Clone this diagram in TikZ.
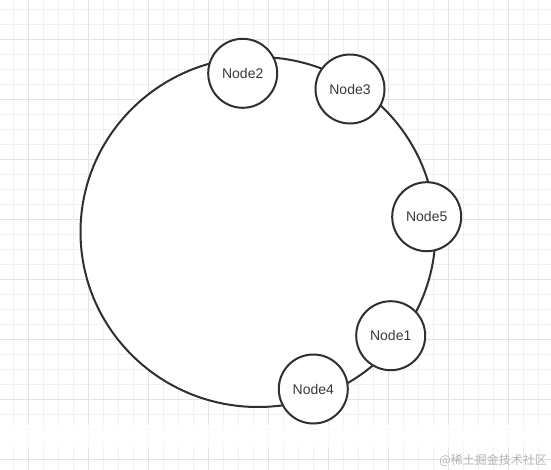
\documentclass[tikz,border=0pt]{standalone}
\usepackage{fontspec}
\setmainfont{Liberation Sans}
\newfontfamily\cjkfont{Noto Sans CJK SC}
\usepackage{xcolor}
\usetikzlibrary{positioning}
\definecolor{ringgray}{HTML}{303030}
\definecolor{textgray}{HTML}{3A3A3A}
\definecolor{gridminor}{HTML}{F0F0F0}
\definecolor{gridmajor}{HTML}{E3E3E3}
\definecolor{markgray}{HTML}{B4B4B4}
\tikzset{
  hashnode/.style = {circle, draw=ringgray, line width=2pt, fill=white,
                     minimum size=69pt, inner sep=0pt, text=textgray,
                     font=\fontsize{14}{16}\selectfont},
  ring/.style     = {draw=ringgray, line width=2pt, fill=white},
  minorline/.style = {draw=gridminor, line width=1pt},
  majorline/.style = {draw=gridmajor, line width=1pt},
  wmark/.style    = {text=markgray, inner sep=0pt,
                     font=\cjkfont\fontsize{12}{14}\selectfont},
}

\begin{document}
\begin{tikzpicture}[x=1pt, y=-1pt]
  \useasboundingbox[fill=white] (0,0) rectangle (551,470);
  % background grid
  \foreach \k in {0,...,35} \draw[minorline] (13.3+15*\k,0) -- (13.3+15*\k,470);
  \foreach \k in {0,...,30} \draw[minorline] (0,9.3+15*\k) -- (551,9.3+15*\k);
  \foreach \k in {0,...,8} \draw[majorline] (28.3+60*\k,0) -- (28.3+60*\k,470);
  \foreach \k in {0,...,7} \draw[majorline] (0,39.3+60*\k) -- (551,39.3+60*\k);
  \fill[white, opacity=0.85] (0,425) rectangle (551,447);
  % hash ring
  \draw[ring] (258,232) ellipse [x radius=177.5, y radius=175];
  \node[hashnode] (n2) at (242.7, 73.3) {Node2};
  \node[hashnode] (n3) at (350, 89) {Node3};
  \node[hashnode] (n5) at (426.7, 216.7) {Node5};
  \node[hashnode] (n1) at (390.7, 335.7) {Node1};
  \node[hashnode] (n4) at (313.3, 389) {Node4};
  \node[wmark, anchor=east] (mark) at (547, 460) {@稀土掘金技术社区};
\end{tikzpicture}
\end{document}
